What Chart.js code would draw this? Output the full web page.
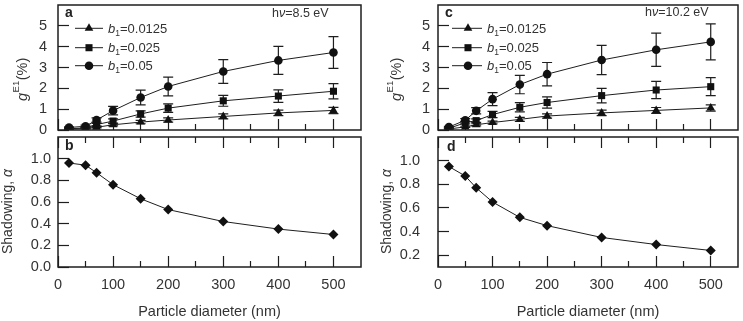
<!DOCTYPE html>
<html><head><meta charset="utf-8">
<script src="https://cdn.jsdelivr.net/npm/chart.js@4/dist/chart.umd.min.js"></script>
<style>
html,body{margin:0;padding:0;background:#fff;}
#wrap{position:relative;width:743px;height:321px;overflow:hidden;background:#fff;}
canvas{position:absolute;}
</style></head><body>
<div id="wrap">
<canvas id="ca" width="366" height="135" style="left:0px;top:0px;"></canvas>
<canvas id="cb" width="366" height="189" style="left:0px;top:132px;"></canvas>
<canvas id="cc" width="372" height="135" style="left:371px;top:0px;"></canvas>
<canvas id="cd" width="372" height="189" style="left:371px;top:132px;"></canvas>
</div>
<script>
// ---------- data ----------
const diameters = [20, 50, 70, 100, 150, 200, 300, 400, 500];
const xMajorTicks = [0, 100, 200, 300, 400, 500];
const xMinorTicks = [50, 150, 250, 350, 450];
const gTicks = [0, 1, 2, 3, 4, 5];
const shadowTicksB = [0.0, 0.2, 0.4, 0.6, 0.8, 1.0];
const shadowTicksD = [0.2, 0.4, 0.6, 0.8, 1.0];
const b1Labels = ['0.0125', '0.025', '0.05'];

// panel a : hv = 8.5 eV
const gA_b0125 = [0.04, 0.07, 0.13, 0.25, 0.38, 0.48, 0.65, 0.82, 0.94];
const gA_b0125_err = [0.01, 0.02, 0.03, 0.05, 0.08, 0.10, 0.12, 0.13, 0.15];
const gA_b025 = [0.06, 0.10, 0.26, 0.43, 0.77, 1.05, 1.40, 1.63, 1.86];
const gA_b025_err = [0.02, 0.03, 0.06, 0.10, 0.15, 0.20, 0.26, 0.30, 0.37];
const gA_b05 = [0.12, 0.18, 0.48, 0.93, 1.56, 2.09, 2.81, 3.34, 3.72];
const gA_b05_err = [0.03, 0.05, 0.10, 0.20, 0.35, 0.45, 0.57, 0.67, 0.76];
// panel b : shadowing at 8.5 eV
const shadowB = [0.96, 0.94, 0.87, 0.76, 0.63, 0.53, 0.42, 0.35, 0.30];

// panel c : hv = 10.2 eV
const gC_b0125 = [0.05, 0.15, 0.25, 0.36, 0.51, 0.67, 0.82, 0.94, 1.06];
const gC_b0125_err = [0.01, 0.03, 0.05, 0.07, 0.10, 0.10, 0.13, 0.14, 0.15];
const gC_b025 = [0.08, 0.35, 0.45, 0.74, 1.09, 1.32, 1.65, 1.92, 2.08];
const gC_b025_err = [0.02, 0.06, 0.08, 0.15, 0.22, 0.27, 0.35, 0.41, 0.43];
const gC_b05 = [0.14, 0.47, 0.92, 1.48, 2.18, 2.68, 3.36, 3.85, 4.23];
const gC_b05_err = [0.03, 0.08, 0.15, 0.31, 0.44, 0.56, 0.70, 0.80, 0.86];
// panel d : shadowing at 10.2 eV
const shadowD = [0.95, 0.87, 0.77, 0.65, 0.52, 0.45, 0.35, 0.29, 0.24];

// ---------- style ----------
const INK = '#1e1e1e';
const TXT = '#333333';
const FONT = '"Liberation Sans", Arial, Helvetica, sans-serif';
Chart.defaults.font.family = FONT;
Chart.defaults.color = TXT;

function pts(vals) { return diameters.map((d, i) => ({ x: d, y: vals[i] })); }

function drawMarker(ctx, style, x, y, r) {
  ctx.beginPath();
  if (style === 'circle') ctx.arc(x, y, r, 0, Math.PI * 2);
  else if (style === 'rect') { const s = Math.SQRT1_2 * r; ctx.rect(x - s, y - s, 2 * s, 2 * s); }
  else if (style === 'triangle') {
    for (let k = 0; k < 3; k++) {
      const a = k * 2 * Math.PI / 3;
      const px = x + Math.sin(a) * r, py = y - Math.cos(a) * r;
      if (k) ctx.lineTo(px, py); else ctx.moveTo(px, py);
    }
    ctx.closePath();
  }
  ctx.fill();
}

function drawRuns(ctx, runs, x, y) {
  let cx = x;
  for (const r of runs) {
    ctx.font = r.font;
    ctx.fillText(r.t, cx, y + (r.dy || 0));
    cx += ctx.measureText(r.t).width + (r.gap || 0);
  }
  return cx - x;
}

const errorBars = {
  id: 'errorBars',
  beforeDatasetsDraw(chart) {
    const ctx = chart.ctx, ys = chart.scales.y, ca = chart.chartArea;
    ctx.save();
    ctx.beginPath(); ctx.rect(ca.left, ca.top, ca.right - ca.left, ca.bottom - ca.top); ctx.clip();
    ctx.strokeStyle = INK; ctx.lineWidth = 1.2;
    chart.data.datasets.forEach((ds, i) => {
      if (!ds.errors) return;
      const meta = chart.getDatasetMeta(i);
      meta.data.forEach((el, j) => {
        const e = ds.errors[j]; if (!e) return;
        const v = ds.data[j].y;
        const yt = ys.getPixelForValue(v + e), yb = ys.getPixelForValue(v - e), x = el.x;
        ctx.beginPath();
        ctx.moveTo(x, yt); ctx.lineTo(x, yb);
        ctx.moveTo(x - 5, yt); ctx.lineTo(x + 5, yt);
        ctx.moveTo(x - 5, yb); ctx.lineTo(x + 5, yb);
        ctx.stroke();
      });
    });
    ctx.restore();
  }
};

function makeDecor(cfg) {
  return {
    id: 'decor',
    afterDraw(chart) {
      const ctx = chart.ctx, ca = chart.chartArea;
      const ox = cfg.ox, oy = cfg.oy;
      ctx.save();
      // frame
      ctx.strokeStyle = INK; ctx.lineWidth = 1.5;
      ctx.strokeRect(ca.left, ca.top, ca.right - ca.left, ca.bottom - ca.top);
      ctx.fillStyle = TXT; ctx.textBaseline = 'alphabetic'; ctx.textAlign = 'left';
      // panel letter
      ctx.font = 'bold 14px ' + FONT;
      ctx.fillStyle = '#222';
      ctx.fillText(cfg.letter, cfg.lx - ox, cfg.ly - oy);
      ctx.fillStyle = TXT;
      // annotation
      if (cfg.ann) {
        drawRuns(ctx, [
          { t: 'h', font: '12.5px ' + FONT },
          { t: 'ν', font: 'italic 12.5px ' + FONT },
          { t: cfg.ann, font: '12.5px ' + FONT }
        ], cfg.ax - ox, cfg.ay - oy);
      }
      // legend
      if (cfg.legend) {
        const L = cfg.legend;
        L.rows.forEach((ry, k) => {
          const y = ry - oy;
          ctx.strokeStyle = INK; ctx.lineWidth = 1;
          ctx.beginPath(); ctx.moveTo(L.x1 - ox, y); ctx.lineTo(L.x2 - ox, y); ctx.stroke();
          ctx.fillStyle = '#111';
          drawMarker(ctx, L.styles[k], L.mx - ox, y, L.radii[k]);
          ctx.fillStyle = TXT;
          drawRuns(ctx, [
            { t: 'b', font: 'italic 13px ' + FONT },
            { t: '1', font: '8.5px ' + FONT, dy: 3 },
            { t: '=' + b1Labels[k], font: '13px ' + FONT }
          ], L.tx - ox, y + 4.6);
        });
      }
      // y title
      if (cfg.yt) {
        const T = cfg.yt;
        ctx.translate(T.x - ox, T.y - oy);
        ctx.rotate(-Math.PI / 2);
        if (T.kind === 'g') {
          drawRuns(ctx, [
            { t: 'g', font: 'italic 14.5px ' + FONT, gap: 0.5 },
            { t: 'E1', font: '9.5px ' + FONT, dy: -8.5, gap: 0.5 },
            { t: '(%)', font: '14.5px ' + FONT }
          ], 0, 0);
        } else {
          drawRuns(ctx, [
            { t: 'Shadowing, ', font: '14px ' + FONT },
            { t: 'α', font: 'italic 14px ' + FONT }
          ], 0, 0);
        }
      }
      ctx.restore();
    }
  };
}

function noPad(s) { s.paddingTop = 0; s.paddingBottom = 0; s.paddingLeft = 0; s.paddingRight = 0; }

function xAxis(position, ticks, len, weight, extra, h) {
  const hh = h || 0;
  return Object.assign({
    type: 'linear', position: position, min: 0, max: 550, weight: weight,
    ticks: { display: false },
    grid: { drawOnChartArea: false, tickLength: len, tickColor: INK, tickWidth: 1.2 },
    border: { display: false },
    afterBuildTicks: s => { s.ticks = ticks.map(v => ({ value: v })); },
    afterFit: s => { s.height = hh; noPad(s); }
  }, extra || {});
}

function yAxis(min, max, ticks, fmt, pad, width) {
  return {
    type: 'linear', position: 'left', min: min, max: max,
    ticks: { font: { size: 14.5 }, color: TXT, padding: pad, autoSkip: false, callback: v => fmt(v) },
    grid: { drawOnChartArea: false, tickLength: -11, tickColor: INK, tickWidth: 1.2 },
    border: { display: false },
    afterBuildTicks: s => { s.ticks = ticks.map(v => ({ value: v })); },
    afterFit: s => { s.width = width; noPad(s); }
  };
}

function gDataset(vals, errs, style, radius) {
  return {
    data: pts(vals), errors: errs, xAxisID: 'x', yAxisID: 'y',
    borderColor: INK, borderWidth: 1, tension: 0,
    pointStyle: style, pointRadius: radius, pointHoverRadius: radius,
    pointBackgroundColor: '#111', pointBorderColor: '#111', pointBorderWidth: 0
  };
}

function topChart(id, sets, yPad, yWidth, padR, decorCfg) {
  new Chart(document.getElementById(id), {
    type: 'line',
    data: { datasets: [
      gDataset(sets[0], sets[1], 'triangle', 5),
      gDataset(sets[2], sets[3], 'rect', 5),
      gDataset(sets[4], sets[5], 'circle', 4.3)
    ] },
    options: {
      responsive: false, animation: false, devicePixelRatio: 1,
      layout: { padding: { top: 1, right: padR, bottom: 2, left: 0 } },
      plugins: { legend: { display: false }, tooltip: { enabled: false } },
      scales: {
        x: xAxis('bottom', xMajorTicks, -11, 1),
        xm: xAxis('bottom', xMinorTicks, -6, 0),
        y: yAxis(0, 6, gTicks, v => String(v), yPad, yWidth)
      }
    },
    plugins: [errorBars, makeDecor(decorCfg)]
  });
}

function bottomChart(id, vals, yMin, yTicks, yPad, yWidth, padR, decorCfg) {
  new Chart(document.getElementById(id), {
    type: 'line',
    data: { datasets: [{
      data: pts(vals), xAxisID: 'x', yAxisID: 'y',
      borderColor: INK, borderWidth: 1, tension: 0,
      pointStyle: 'rectRot', pointRadius: 5, pointHoverRadius: 5,
      pointBackgroundColor: '#111', pointBorderColor: '#111', pointBorderWidth: 0
    }] },
    options: {
      responsive: false, animation: false, devicePixelRatio: 1,
      layout: { padding: { top: 1, right: padR, bottom: 0, left: 0 } },
      plugins: { legend: { display: false }, tooltip: { enabled: false } },
      scales: {
        x: xAxis('bottom', xMajorTicks, -11, 1, {
          ticks: { display: true, font: { size: 14.5 }, color: TXT, padding: 20, maxRotation: 0, autoSkip: false },
          title: { display: true, text: 'Particle diameter (nm)', font: { size: 14.5 }, color: TXT, padding: { top: 0, bottom: 0 } }
        }, 54),
        xm: xAxis('bottom', xMinorTicks, -6, 0),
        xt: xAxis('top', xMajorTicks, -11, 1),
        xtm: xAxis('top', xMinorTicks, -6, 0),
        y: yAxis(yMin, 1.2, yTicks, v => v.toFixed(1), yPad, yWidth)
      }
    },
    plugins: [makeDecor(decorCfg)]
  });
}

topChart('ca', [gA_b0125, gA_b0125_err, gA_b025, gA_b025_err, gA_b05, gA_b05_err], 22, 58, 4, {
  ox: 0, oy: 0, letter: 'a', lx: 65, ly: 17, ann: '=8.5 eV', ax: 272, ay: 16.7,
  legend: { x1: 75, x2: 103, mx: 89, tx: 108, rows: [28.3, 47.7, 65.7], styles: ['triangle', 'rect', 'circle'], radii: [5, 5, 4.3] },
  yt: { kind: 'g', x: 27, y: 101 }
});
bottomChart('cb', shadowB, 0, shadowTicksB, 18, 58, 4, {
  ox: 0, oy: 132, letter: 'b', lx: 65, ly: 149.5,
  yt: { kind: 's', x: 12, y: 254 }
});
topChart('cc', [gC_b0125, gC_b0125_err, gC_b025, gC_b025_err, gC_b05, gC_b05_err], 19, 67, 1.5, {
  ox: 371, oy: 0, letter: 'c', lx: 445, ly: 17, ann: '=10.2 eV', ax: 645, ay: 16,
  legend: { x1: 452, x2: 482, mx: 468, tx: 487, rows: [28.3, 47.7, 65.7], styles: ['triangle', 'rect', 'circle'], radii: [5, 5, 4.3] },
  yt: { kind: 'g', x: 401, y: 101 }
});
bottomChart('cd', shadowD, 0.1, shadowTicksD, 29, 67, 1.5, {
  ox: 371, oy: 132, letter: 'd', lx: 447, ly: 150.5,
  yt: { kind: 's', x: 391, y: 254 }
});
</script>
</body></html>
